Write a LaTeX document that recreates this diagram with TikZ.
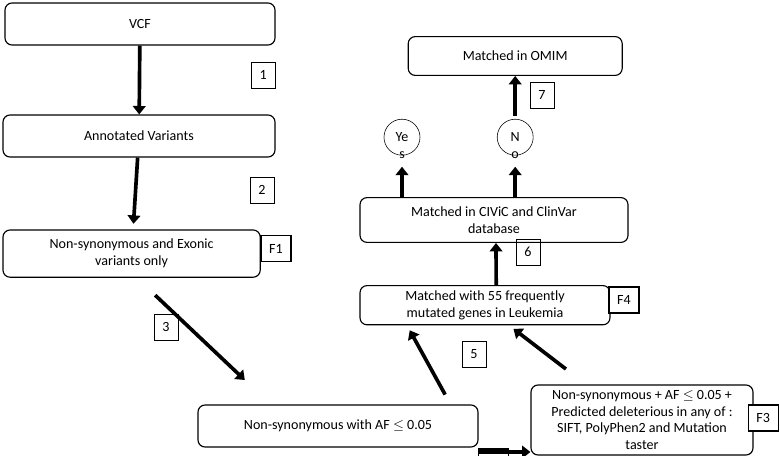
\documentclass[tikz,border=0pt]{standalone}
\usepackage{fontspec}
\setmainfont{Carlito}
\usetikzlibrary{arrows.meta}
\usetikzlibrary{positioning}

\tikzset{
  stage/.style={draw, rounded corners=5pt, thick, align=center, font=\normalsize, inner sep=2pt},
  tag/.style={draw, thick, minimum width=0.75cm, minimum height=0.65cm, inner sep=1pt, fill=white},
  num/.style={draw, thin, minimum width=0.6cm, minimum height=0.65cm, inner sep=1pt},
  ans/.style={draw, circle, thin, minimum size=0.9cm, inner sep=0pt},
  flow/.style={-{Triangle[length=6pt,width=9pt]}, line width=2.6pt},
}

\begin{document}
\begin{tikzpicture}

  \useasboundingbox (0,0) rectangle (19.5,-11.4);

  % Define nodes
  \node[stage, minimum width=6.75cm, minimum height=1.05cm] (vcf) at (3.5,-0.6) {VCF};
  \node[stage, minimum width=6.8cm, minimum height=1.05cm] (annot) at (3.475,-3.4) {Annotated Variants};
  \node[stage, minimum width=6.43cm, minimum height=1.18cm] (exonic) at (3.29,-6.34) {Non-synonymous and Exonic\\variants only};
  \node[tag] (f1) at (6.9,-6.22) {F1};

  \node[stage, minimum width=7cm, minimum height=1.05cm] (af) at (8.45,-10.65) {Non-synonymous with AF $\leq$ 0.05};
  \node[tag] (f2) at (12.33,-11.55) {F2};
  \node[stage, minimum width=5.55cm, minimum height=1.75cm] (pred) at (16.05,-10.5) {Non-synonymous + AF $\leq$ 0.05 +\\Predicted deleterious in any of :\\SIFT, PolyPhen2 and Mutation\\taster};
  \node[tag] (f3) at (19.08,-10.45) {F3};

  \node[stage, minimum width=6.25cm, minimum height=0.98cm] (genes) at (12.125,-7.63) {Matched with 55 frequently\\mutated genes in Leukemia};
  \node[tag] (f4) at (15.6,-7.5) {F4};
  \node[stage, minimum width=6.7cm, minimum height=1.12cm] (civic) at (12.35,-5.5) {Matched in CIViC and ClinVar\\database};
  \node[ans, label={[inner sep=0pt, yshift=3pt]below:s}] (yes) at (10.05,-3.43) {Ye};
  \node[ans, label={[inner sep=0pt, yshift=3pt]below:o}] (no) at (12.88,-3.43) {N};
  \node[stage, minimum width=5.35cm, minimum height=0.97cm] (omim) at (12.88,-1.4) {Matched in OMIM};

  \node[num] (n1) at (6.58,-1.88) {1};
  \node[num] (n2) at (6.55,-4.75) {2};
  \node[num] (n3) at (4.15,-8.18) {3};
  \node[num] (n4) at (11.93,-11.95) {4};
  \node[num] (n5) at (11.85,-8.85) {5};
  \node[num] (n6) at (13.2,-6.3) {6};
  \node[num] (n7) at (13.55,-2.38) {7};

  \coordinate (s3) at (3.88,-7.38);
  \coordinate (e3) at (6.12,-9.5);

  % Connect nodes
  \draw[flow] (vcf) -- (annot);
  \draw[flow, shorten >=4pt] (annot) -- (exonic);
  \draw[flow] (s3) -- (e3);
  \draw[flow] (af.east |- 0,-11.3) -- (pred.west |- 0,-11.3);
  \draw[flow, shorten <=8pt, shorten >=4pt] ([xshift=-0.7cm]af.north east) -- ([xshift=-1.95cm]genes.south);
  \draw[flow, shorten <=18pt, shorten >=4pt] ([xshift=-1.4cm]pred.north) -- ([xshift=0.6cm]genes.south);
  \draw[flow] ([xshift=0.28cm]genes.north) -- ([xshift=0.05cm]civic.south);
  \draw[flow, shorten >=8pt] (yes |- civic.north) -- (yes);
  \draw[flow, shorten >=8pt] (no |- civic.north) -- (no);
  \draw[flow, shorten <=2pt] (no) -- (omim);

\end{tikzpicture}
\end{document}
